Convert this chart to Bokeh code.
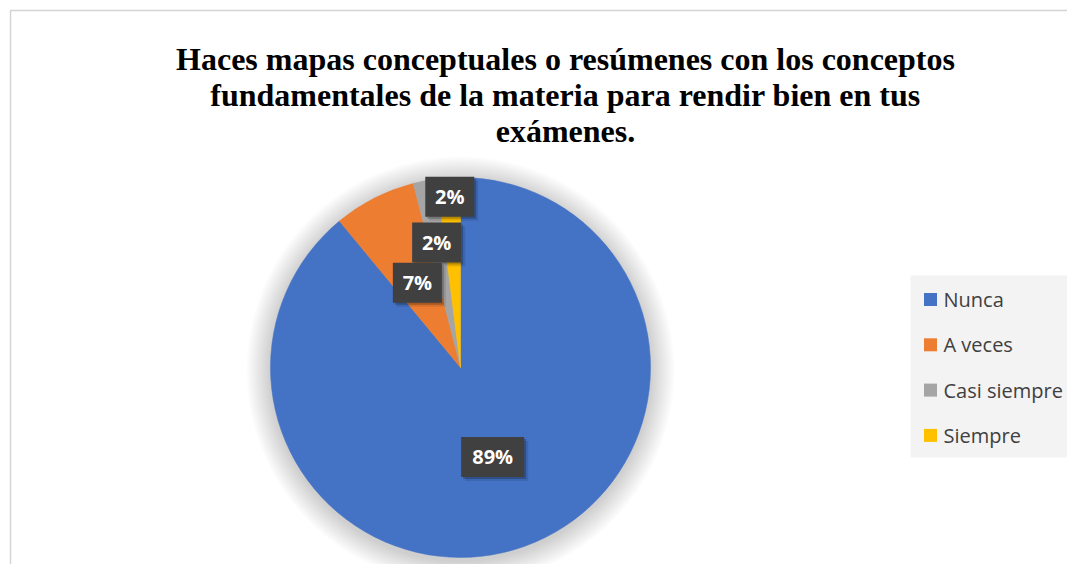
import numpy as np
from bokeh.plotting import figure
from bokeh.models import Range1d, ColumnDataSource
from bokeh.embed import file_html
from bokeh.resources import INLINE
from bokeh.core.properties import value

# ---------------- data ----------------
categories = ["Nunca", "A veces", "Casi siempre", "Siempre"]
values = [89, 7, 2, 2]
pct_labels = ["89%", "7%", "2%", "2%"]
colors = ["#4472C4", "#ED7D31", "#A5A5A5", "#FFC000"]
title_lines = [
    "Haces mapas conceptuales o resúmenes con los conceptos",
    "fundamentales de la materia para rendir bien en tus",
    "exámenes.",
]

# ---------------- layout (screen pixels) ----------------
W, H = 1067, 564
PAGE_H = 580


def py(y):
    return PAGE_H - y


p = figure(width=W, height=H, x_range=Range1d(0, W), y_range=Range1d(PAGE_H - H, PAGE_H),
           output_backend="svg", toolbar_location=None, min_border=0,
           x_axis_location=None, y_axis_location=None)
p.grid.visible = False
p.outline_line_color = None
p.background_fill_color = "white"
p.border_fill_color = "white"

# chart-area border (extends past the window right/bottom)
p.quad(left=[10], right=[1400], top=[py(10)], bottom=[-300], fill_color=None,
       line_color="#d4d4d4", line_width=1.5)

# pie geometry
cx, cy, r = 460, py(367), 190
vals = np.array(values, dtype=float)
frac = vals / vals.sum()
cum = np.cumsum(frac)
end_ang = np.pi / 2 - (cum - frac) * 2 * np.pi
start_ang = np.pi / 2 - cum * 2 * np.pi
mid_ang = (start_ang + end_ang) / 2

# soft shadow
for k in range(1, 17):
    p.circle(x=[cx], y=[cy - 3], radius=r + 1.5 * k, fill_color="black", fill_alpha=0.01,
             line_color=None)

src = ColumnDataSource(dict(start=start_ang, end=end_ang, color=colors, cat=categories))
p.wedge(x=cx, y=cy, radius=r, start_angle="start", end_angle="end", direction="anticlock",
        fill_color="color", line_color="color", line_width=0.5, source=src)

# data labels
label_r = [0.5, 0.5, 0.67, 0.9]
box_w = [63, 49, 49, 49]
lx = cx + r * np.array(label_r) * np.cos(mid_ang)
ly = cy + r * np.array(label_r) * np.sin(mid_ang)
lsrc = ColumnDataSource(dict(x=lx, y=ly, w=box_w, t=pct_labels,
                             xs1=lx + 2, ys1=ly - 2, xs2=lx + 4, ys2=ly - 4))
p.rect(x="xs2", y="ys2", width="w", height=40, fill_color="black", fill_alpha=0.10,
       line_color=None, source=lsrc)
p.rect(x="xs1", y="ys1", width="w", height=40, fill_color="black", fill_alpha=0.22,
       line_color=None, source=lsrc)
p.rect(x="x", y="y", width="w", height=40, fill_color="#404040", line_color=None, source=lsrc)
p.text(x="x", y="y", text="t", text_color="white", text_font=value("Open Sans"),
       text_font_size="20px", text_font_style="bold", text_align="center",
       text_baseline="middle", source=lsrc)

# legend
p.quad(left=[910], right=[1100], top=[py(275)], bottom=[py(457)], fill_color="#f3f3f3",
       line_color=None)
leg_y = [py(299 + 45.3 * i) for i in range(len(categories))]
p.rect(x=[930] * len(categories), y=leg_y, width=13, height=13, fill_color=colors, line_color=None)
p.text(x=[943] * len(categories), y=leg_y, text=categories, text_color="#404040",
       text_font=value("Open Sans"), text_font_size="20px", text_align="left",
       text_baseline="middle")

# title
p.text(x=[565] * 3, y=[py(58), py(94), py(130)], text=title_lines, text_color="black",
       text_font=value("Liberation Serif"), text_font_size="32px", text_font_style="bold",
       text_align="center", text_baseline="middle")

open("out.html", "w").write(file_html(p, INLINE))
